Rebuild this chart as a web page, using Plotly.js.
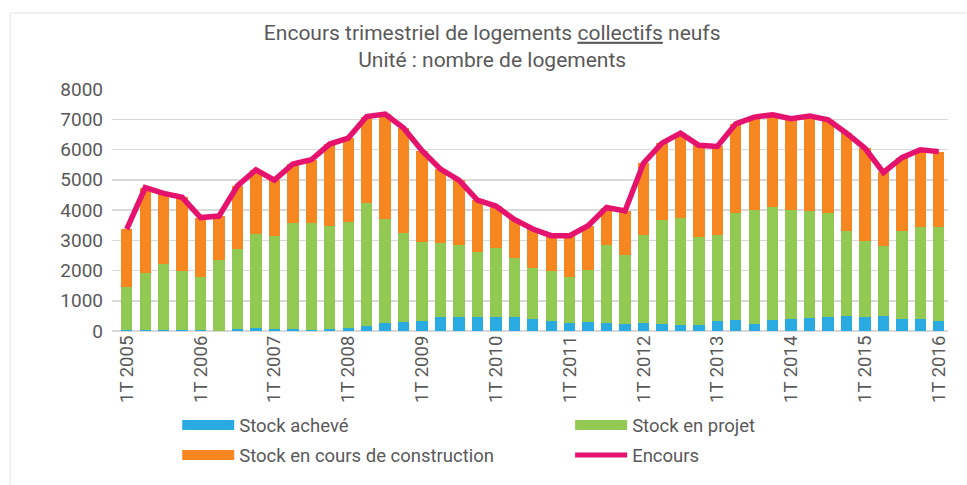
<!DOCTYPE html>
<html>
<head>
<meta charset="utf-8">
<script src="https://cdn.plot.ly/plotly-3.0.1.min.js"></script>
<style>html,body{margin:0;padding:0;background:#fff;}#chart{width:967px;height:485px;}</style>
</head>
<body>
<div id="chart"></div>
<script>
// Quarters 1T 2005 .. 1T 2016 (45 quarters)
const quarterIndex = Array.from({length: 45}, (_, i) => i);
const tickPositions = [0, 4, 8, 12, 16, 20, 24, 28, 32, 36, 40, 44];
const tickLabels = ["1T 2005","1T 2006","1T 2007","1T 2008","1T 2009","1T 2010","1T 2011","1T 2012","1T 2013","1T 2014","1T 2015","1T 2016"];

const stockAcheve = [45,45,45,45,35,10,80,110,80,80,45,80,90,150,250,290,330,450,450,450,450,475,410,330,280,300,265,230,265,230,210,190,320,365,240,365,390,430,465,500,465,500,400,390,330];
const stockProjet = [1415,1885,2185,1955,1735,2350,2620,3110,3070,3480,3515,3400,3510,4070,3450,2960,2610,2470,2390,2150,2310,1925,1660,1650,1510,1730,2575,2280,2905,3440,3540,2930,2870,3545,3770,3725,3620,3540,3425,2800,2505,2300,2900,3050,3110];
const stockConstruction = [1910,2810,2320,2420,1980,1440,2100,2110,1840,1960,2100,2700,2780,2870,3470,3460,3020,2430,2150,1730,1370,1290,1300,1170,1360,1450,1240,1460,2380,2540,2790,3020,2910,2940,3060,3060,3010,3140,3090,3240,3070,2440,2430,2550,2490];
const encours = [3370,4740,4550,4420,3750,3800,4800,5330,4990,5520,5660,6180,6380,7090,7170,6710,5960,5350,4990,4330,4130,3690,3370,3150,3150,3480,4080,3970,5550,6210,6540,6140,6100,6850,7070,7150,7020,7110,6980,6540,6040,5240,5730,5990,5930];

const seriesNames = ["Stock achevé", "Stock en projet", "Stock en cours de construction", "Encours"];
const colors = ["#29abe2", "#92c952", "#f58620", "#e5126e"];

const FONT = "Roboto, 'Liberation Sans', sans-serif";
const TXT = "#595959";

const barTrace = (y, i) => ({
  type: "bar", x: quarterIndex, y: y, name: seriesNames[i],
  marker: {color: colors[i], line: {width: 0}}, showlegend: false, hoverinfo: "skip"
});
const legendTrace = (i, w, lg) => ({
  type: "scatter", mode: "lines", x: [null], y: [null], name: seriesNames[i],
  line: {color: colors[i], width: w}, showlegend: true, hoverinfo: "skip",
  legend: lg, legendgroup: "g" + i
});

const data = [
  barTrace(stockAcheve, 0),
  barTrace(stockProjet, 1),
  barTrace(stockConstruction, 2),
  {type: "scatter", mode: "lines", x: quarterIndex, y: encours, name: seriesNames[3],
   line: {color: colors[3], width: 5.5}, showlegend: false, hoverinfo: "skip"},
  legendTrace(0, 10, "legend"), legendTrace(2, 10, "legend"),
  legendTrace(1, 10, "legend2"), legendTrace(3, 5, "legend2")
];

const legendCommon = {
  orientation: "v", xanchor: "left", yanchor: "top", y: -0.312,
  itemwidth: 52, tracegroupgap: 3, traceorder: "grouped",
  font: {family: FONT, size: 18.5, color: TXT}, bgcolor: "rgba(0,0,0,0)"
};

const layout = {
  width: 967, height: 485,
  margin: {l: 112, r: 19, t: 89, b: 154, autoexpand: false},
  paper_bgcolor: "#ffffff", plot_bgcolor: "#ffffff",
  font: {family: FONT, color: TXT, size: 18},
  barmode: "stack", bargap: 0.38,
  title: {
    text: "Encours trimestriel de logements <u>collectifs</u> neufs<br>Unité : nombre de logements",
    font: {family: FONT, size: 21, color: TXT},
    x: 0.509, xref: "container", xanchor: "center",
    y: 0.918, yref: "container", yanchor: "middle"
  },
  xaxis: {
    range: [-0.8, 44.5], tickmode: "array", tickvals: tickPositions, ticktext: tickLabels,
    tickangle: -90, showgrid: false, zeroline: false, showline: false, ticks: "",
    tickfont: {family: FONT, size: 18.5, color: TXT}, fixedrange: true
  },
  yaxis: {
    range: [0, 8000], tickvals: [0,1000,2000,3000,4000,5000,6000,7000,8000],
    showgrid: true, gridcolor: "#d9d9d9", gridwidth: 1.5, zeroline: true, zerolinecolor: "#d9d9d9", zerolinewidth: 1.5,
    ticks: "", ticklabelstandoff: 8,
    tickfont: {family: FONT, size: 19, color: TXT}, fixedrange: true
  },
  legend: Object.assign({}, legendCommon, {x: 0.078}),
  legend2: Object.assign({}, legendCommon, {x: 0.548}),
  shapes: [
    {type: "line", xref: "paper", yref: "paper", x0: -0.1220, x1: 1.03, y0: 1.314, y1: 1.314, line: {color: "#f0f0f0", width: 2}},
    {type: "line", xref: "paper", yref: "paper", x0: -0.1220, x1: -0.1220, y0: 1.314, y1: -0.64, line: {color: "#f0f0f0", width: 2}}
  ],
  showlegend: true
};

Plotly.newPlot("chart", data, layout, {displayModeBar: false, staticPlot: true});
</script>
</body>
</html>
